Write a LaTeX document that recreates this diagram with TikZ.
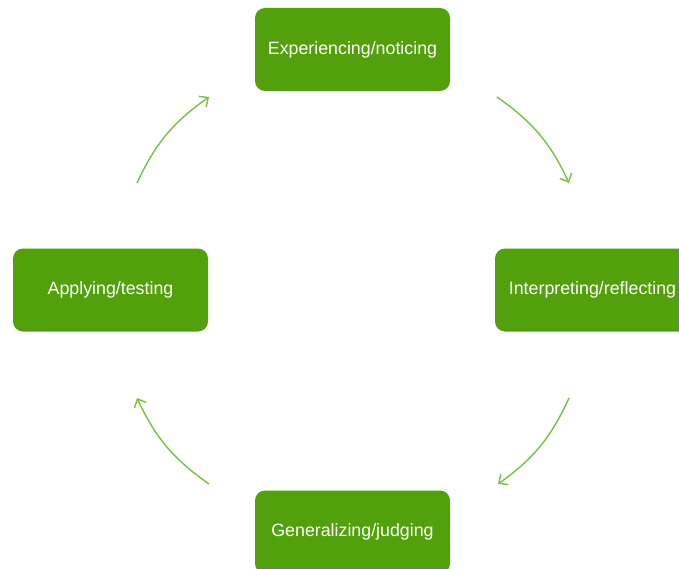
\documentclass[tikz,border=0pt]{standalone}
\usepackage{fontspec}
\setmainfont{Liberation Sans}
\usepackage{tikz}
\usetikzlibrary{arrows.meta}

\definecolor{boxgreen}{RGB}{82,160,12}
\definecolor{arrowgreen}{RGB}{122,192,72}

\begin{document}
\begin{tikzpicture}[x=1pt,y=-1pt]
\tikzset{stage/.style = {shape=rectangle,rounded corners=10pt,fill=boxgreen,text=white,
  minimum width=195pt,minimum height=83pt,inner sep=0pt,font=\fontsize{17.8}{21}\selectfont}}
\tikzset{edge/.style = {draw=arrowgreen,line width=1.4pt,-{Straight Barb[length=7pt,width=13pt]}}}
\useasboundingbox (0,0) rectangle (679,569);
% stages
\node[stage] (exp) at (352.5,49.5) {Experiencing/noticing};
\node[stage] (int) at (592.5,290) {Interpreting/reflecting};
\node[stage] (gen) at (352.5,532) {Generalizing/judging};
\node[stage] (app) at (110.5,290) {Applying/testing};
% arrow ends
\coordinate (a1) at (497,97);
\coordinate (b1) at (569,183);
\coordinate (a2) at (569,398);
\coordinate (b2) at (498,484);
\coordinate (a3) at (209,484);
\coordinate (b3) at (137,398);
\coordinate (a4) at (137,183);
\coordinate (b4) at (209,97);
%edges
\draw[edge] (a1) to[bend left=15] (b1);
\draw[edge] (a2) to[bend left=15] (b2);
\draw[edge] (a3) to[bend left=15] (b3);
\draw[edge] (a4) to[bend left=15] (b4);
\end{tikzpicture}
\end{document}
